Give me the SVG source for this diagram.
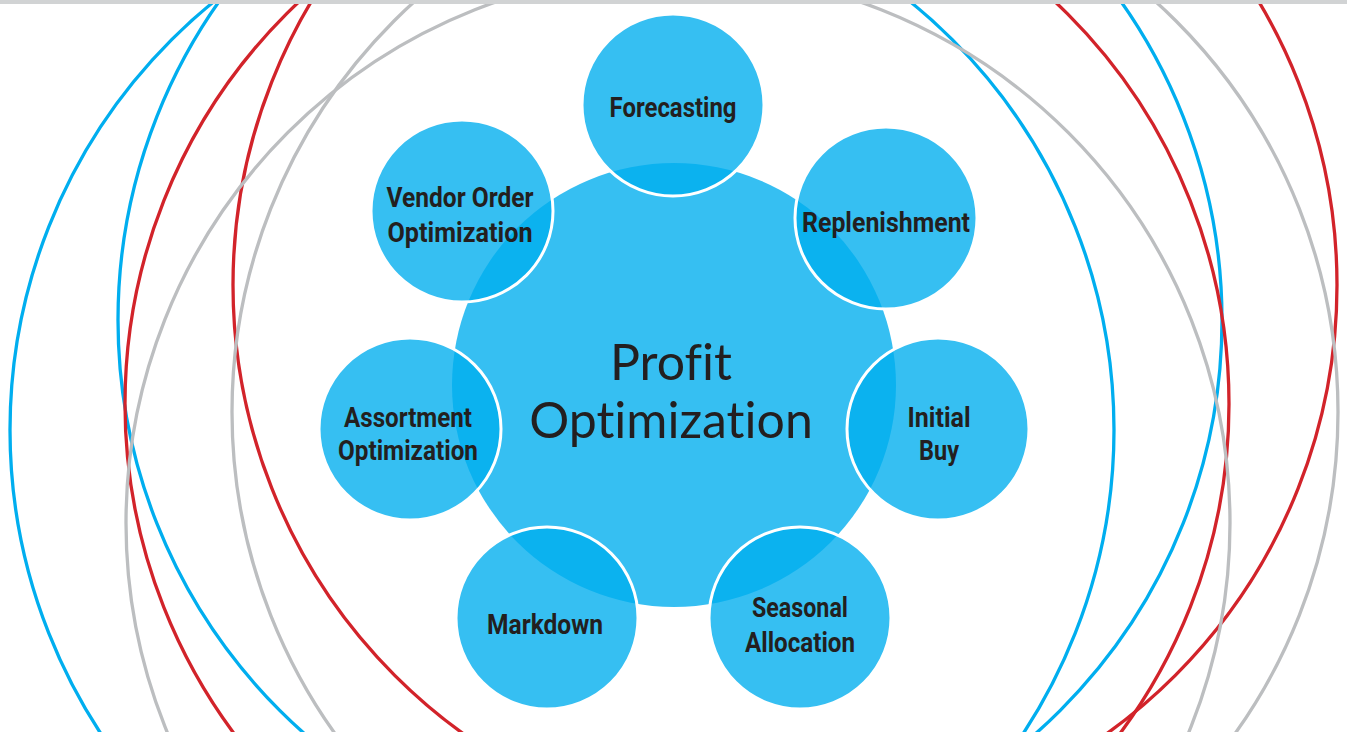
<svg xmlns="http://www.w3.org/2000/svg" width="1347" height="732" viewBox="0 0 1347 732">
  <style>
    .arc { fill: none; stroke-width: 3.3; }
    .blue { stroke: #00AEEF; }
    .red { stroke: #D2232A; }
    .gray { stroke: #BCBEC0; }
    .hub { fill: #00AEEF; fill-opacity: 0.79; }
    .sat { fill: #00AEEF; fill-opacity: 0.79; stroke: #FFFFFF; stroke-width: 3; }
    .lbl { font-family: Roboto, 'Liberation Sans', sans-serif; font-weight: bold; font-size: 28px; fill: #231F20; text-anchor: middle; }
    .hubtxt { font-family: Lato, 'Noto Sans', sans-serif; font-size: 50px; fill: #231F20; text-anchor: middle; font-variant-ligatures: none; }
  </style>
  <rect x="0" y="0" width="1347" height="732" fill="#FFFFFF"/>
  <g id="background-arcs">
    <circle class="arc blue" cx="562" cy="430" r="552"/>
    <circle class="arc blue" cx="670" cy="320" r="552"/>
    <circle class="arc red" cx="677" cy="404" r="552"/>
    <circle class="arc red" cx="785" cy="285" r="552"/>
    <circle class="arc gray" cx="678" cy="523" r="552"/>
    <circle class="arc gray" cx="785" cy="412" r="553"/>
  </g>
  <rect id="top-bar" x="0" y="0" width="1347" height="4" fill="#D1D3D4"/>
  <g id="connectors"></g>
  <g id="profit-optimization">
    <circle class="hub" cx="674" cy="385" r="222"/>
    <text class="hubtxt" x="671" y="380">Profit</text>
    <text class="hubtxt" x="671" y="438">Optimization</text>
  </g>
  <g id="forecasting">
    <circle class="sat" cx="673" cy="105" r="91"/>
    <text class="lbl" x="673" y="117" textLength="127" lengthAdjust="spacingAndGlyphs">Forecasting</text>
  </g>
  <g id="replenishment">
    <circle class="sat" cx="886" cy="218" r="91"/>
    <text class="lbl" x="886" y="232" textLength="168" lengthAdjust="spacingAndGlyphs">Replenishment</text>
  </g>
  <g id="initial-buy">
    <circle class="sat" cx="938" cy="429" r="91"/>
    <text class="lbl" x="939" y="427" textLength="63" lengthAdjust="spacingAndGlyphs">Initial</text>
    <text class="lbl" x="939" y="460" textLength="40" lengthAdjust="spacingAndGlyphs">Buy</text>
  </g>
  <g id="seasonal-allocation">
    <circle class="sat" cx="800" cy="618" r="91"/>
    <text class="lbl" x="800" y="617" textLength="96" lengthAdjust="spacingAndGlyphs">Seasonal</text>
    <text class="lbl" x="800" y="652" textLength="110" lengthAdjust="spacingAndGlyphs">Allocation</text>
  </g>
  <g id="markdown">
    <circle class="sat" cx="547" cy="618" r="91"/>
    <text class="lbl" x="545" y="634" textLength="116" lengthAdjust="spacingAndGlyphs">Markdown</text>
  </g>
  <g id="assortment-optimization">
    <circle class="sat" cx="410" cy="429" r="91"/>
    <text class="lbl" x="408" y="427" textLength="128" lengthAdjust="spacingAndGlyphs">Assortment</text>
    <text class="lbl" x="408" y="460" textLength="140" lengthAdjust="spacingAndGlyphs">Optimization</text>
  </g>
  <g id="vendor-order-optimization">
    <circle class="sat" cx="462" cy="211" r="91"/>
    <text class="lbl" x="460" y="207" textLength="147" lengthAdjust="spacingAndGlyphs">Vendor Order</text>
    <text class="lbl" x="460" y="242" textLength="145" lengthAdjust="spacingAndGlyphs">Optimization</text>
  </g>
</svg>
